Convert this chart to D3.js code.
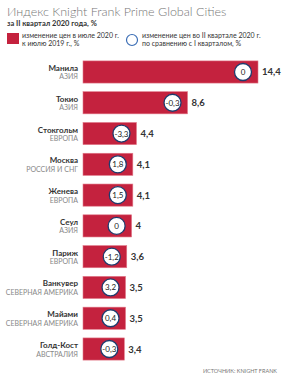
<!DOCTYPE html>
<html>
<head>
<meta charset="utf-8">
<script src="https://cdn.jsdelivr.net/npm/d3@7"></script>
<style>
    body { margin: 0; background: #fff; }
    svg { display: block; font-family: Lato, 'Noto Sans', sans-serif; }
    .city { font-size: 8px; font-weight: bold; fill: #333; text-anchor: end; }
    .region { font-size: 7px; fill: #888; text-anchor: end; }
    .value { font-size: 9.5px; font-weight: bold; fill: #333; }
    .change { font-size: 8px; fill: #222; text-anchor: middle; }
    .legend-small { font-size: 7px; fill: #333; }
</style>
</head>
<body>
<svg id="chart"></svg>
<script>
// data

const cities = ['Манила', 'Токио', 'Стокгольм', 'Москва', 'Женева', 'Сеул', 'Париж', 'Ванкувер', 'Майами', 'Голд-Кост'];
const regions = ['АЗИЯ', 'АЗИЯ', 'ЕВРОПА', 'РОССИЯ И СНГ', 'ЕВРОПА', 'АЗИЯ', 'ЕВРОПА', 'СЕВЕРНАЯ АМЕРИКА', 'СЕВЕРНАЯ АМЕРИКА', 'АВСТРАЛИЯ'];
const annualChange = [14.4, 8.6, 4.4, 4.1, 4.1, 4, 3.6, 3.5, 3.5, 3.4];
const quarterChange = [0, -0.3, -3.3, 1.8, 1.5, 0, -1.2, 3.2, 0.4, -0.3];

// sizes

let width = 282;
let height = 380;
let barRed = '#c4223e';
let circleBlue = '#1d3c6e';

let fmt = v => String(v).replace('.', ',');

let svg = d3.select('#chart')
    .attr('width', width)
    .attr('height', height);

// scales

let xScale = d3.scaleLinear()
    .domain([0, 14.4])
    .range([83, 258]);

let yScale = d3.scaleBand()
    .domain(cities)
    .range([56.6, 364.4])
    .paddingInner(0.28)
    .paddingOuter(0.14);

// title

svg.append('text')
    .attr('x', 7)
    .attr('y', 16)
    .style('font-size', '12.5px')
    .style('font-weight', 300)
    .style('fill', '#777')
    .text('Индекс Knight Frank Prime Global Cities');

svg.append('text')
    .attr('x', 7)
    .attr('y', 26)
    .style('font-size', '7.5px')
    .style('font-weight', 'bold')
    .style('fill', '#333')
    .text('за II квартал 2020 года, %');

// legends

let legend = svg.append('g');

legend.append('rect')
    .attr('x', 7)
    .attr('y', 33)
    .attr('width', 12)
    .attr('height', 11)
    .style('fill', barRed);

legend.append('text')
    .attr('class', 'legend-small')
    .attr('x', 22)
    .attr('y', 38)
    .text('изменение цен в июле 2020 г.');

legend.append('text')
    .attr('class', 'legend-small')
    .attr('x', 22)
    .attr('y', 46)
    .text('к июлю 2019 г., %');

legend.append('circle')
    .attr('cx', 132)
    .attr('cy', 40)
    .attr('r', 5.5)
    .style('fill', '#fff')
    .style('stroke', '#3a6db5')
    .style('stroke-width', 1.2);

legend.append('text')
    .attr('class', 'legend-small')
    .attr('x', 142)
    .attr('y', 38)
    .text('изменение цен во II квартале 2020 г.');

legend.append('text')
    .attr('class', 'legend-small')
    .attr('x', 142)
    .attr('y', 46)
    .text('по сравнению с I кварталом, %');

// bars

let rows = svg.append('g')
    .selectAll('g')
    .data(cities)
    .enter()
    .append('g')
    .attr('transform', d => `translate(0, ${yScale(d)})`);

rows.append('rect')
    .attr('x', xScale(0))
    .attr('y', 0)
    .attr('width', (d, i) => xScale(annualChange[i]) - xScale(0))
    .attr('height', yScale.bandwidth())
    .style('fill', barRed)
    .style('stroke', '#e27a8a')
    .style('stroke-width', 0.6);

rows.append('circle')
    .attr('cx', (d, i) => xScale(annualChange[i]) - 15)
    .attr('cy', yScale.bandwidth() / 2)
    .attr('r', 8.5)
    .style('fill', '#fff')
    .style('stroke', circleBlue)
    .style('stroke-width', 1.3);

rows.append('text')
    .attr('class', 'change')
    .attr('x', (d, i) => xScale(annualChange[i]) - 15)
    .attr('y', yScale.bandwidth() / 2 + 3)
    .text((d, i) => fmt(quarterChange[i]));

rows.append('text')
    .attr('class', 'value')
    .attr('x', (d, i) => xScale(annualChange[i]) + 4)
    .attr('y', yScale.bandwidth() / 2 + 3.5)
    .text((d, i) => fmt(annualChange[i]));

rows.append('text')
    .attr('class', 'city')
    .attr('x', 78)
    .attr('y', yScale.bandwidth() / 2 - 1)
    .text(d => d);

rows.append('text')
    .attr('class', 'region')
    .attr('x', 78)
    .attr('y', yScale.bandwidth() / 2 + 7.5)
    .text((d, i) => regions[i]);

// source

svg.append('text')
    .attr('x', 277)
    .attr('y', 373)
    .style('font-size', '5.5px')
    .style('fill', '#777')
    .style('text-anchor', 'end')
    .text('ИСТОЧНИК:  KNIGHT FRANK');
</script>
</body>
</html>
